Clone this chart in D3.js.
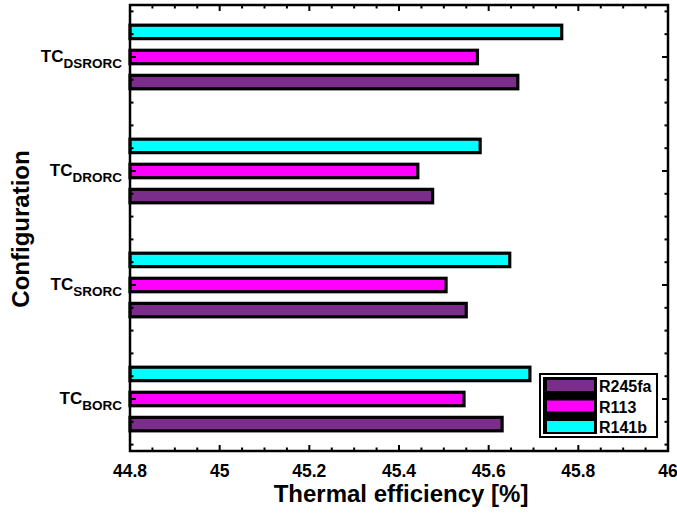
<!DOCTYPE html>
<html><head><meta charset="utf-8">
<script src="https://cdn.jsdelivr.net/npm/d3@7"></script>
<style>body{margin:0;background:#fff}svg{display:block;font-family:"Liberation Sans",Arial,sans-serif;font-weight:bold}</style>
</head><body>
<svg id="c" width="677" height="513"></svg>
<script>
const categories = ["BORC", "SRORC", "DRORC", "DSRORC"];
const seriesNames = ["R245fa", "R113", "R141b"];
const seriesColors = ["#7b2d8b", "#ff00ff", "#00ffff"];
const R245fa = [45.63, 45.55, 45.475, 45.665];
const R113   = [45.545, 45.505, 45.442, 45.575];
const R141b  = [45.692, 45.647, 45.581, 45.763];
const xTicks = [44.8, 45, 45.2, 45.4, 45.6, 45.8, 46];
const xTickLabels = ["44.8", "45", "45.2", "45.4", "45.6", "45.8", "46"];
const values = [R245fa, R113, R141b];

const svg = d3.select("#c");
const L = 130, R = 668, T = 5, B = 451;
const x = d3.scaleLinear().domain([44.8, 46]).range([L, R]);
const y = d3.scaleLinear().domain([0.544, 4.456]).range([B, T]);
const offs = [-0.22, 0, 0.22];
const bh = 0.118;

// bars
values.forEach((vals, s) => {
  svg.append("g").selectAll("rect").data(vals).join("rect")
    .attr("x", x(44.8))
    .attr("y", (d, i) => y(i + 1 + offs[s] + bh / 2))
    .attr("width", d => x(d) - x(44.8))
    .attr("height", y(0) - y(bh))
    .attr("fill", seriesColors[s])
    .attr("stroke", "#000").attr("stroke-width", 3.2);
});

// ticks
const minorX = d3.range(0, 25).map(i => 44.8 + i * 0.05);
const g = svg.append("g").attr("stroke", "#000");
minorX.forEach(v => {
  const major = xTicks.some(t => Math.abs(t - v) < 1e-6);
  const len = major ? 6 : 3.5;
  g.append("line").attr("x1", x(v)).attr("x2", x(v)).attr("y1", B).attr("y2", B - len).attr("stroke-width", 2);
  g.append("line").attr("x1", x(v)).attr("x2", x(v)).attr("y1", T).attr("y2", T + len).attr("stroke-width", 2);
});
const minorY = d3.range(0, 21).map(i => 0.6 + i * 0.2).filter(v => y(v) > T + 2 && y(v) < B - 2);
minorY.forEach(v => {
  const major = Math.abs(v - Math.round(v)) < 1e-6;
  const len = major ? 6 : 3.5;
  g.append("line").attr("x1", L).attr("x2", L + len).attr("y1", y(v)).attr("y2", y(v)).attr("stroke-width", 2);
  g.append("line").attr("x1", R).attr("x2", R - len).attr("y1", y(v)).attr("y2", y(v)).attr("stroke-width", 2);
});

// frame
svg.append("rect").attr("x", L).attr("y", T).attr("width", R - L).attr("height", B - T)
  .attr("fill", "none").attr("stroke", "#000").attr("stroke-width", 2.5);

// x tick labels
svg.append("g").selectAll("text").data(xTicks).join("text")
  .attr("x", d => x(d)).attr("y", 477).attr("text-anchor", "middle")
  .attr("font-size", 17.5).text((d, i) => xTickLabels[i]);

// category labels
categories.forEach((c, i) => {
  const t = svg.append("text").attr("x", 122).attr("y", y(i + 1) + 5)
    .attr("text-anchor", "end").attr("font-size", 17);
  t.append("tspan").text("TC");
  t.append("tspan").attr("dy", 6).attr("font-size", 13.5).text(c);
});

// axis titles
svg.append("text").attr("x", 401).attr("y", 502).attr("text-anchor", "middle")
  .attr("font-size", 24).text("Thermal efficiency [%]");
svg.append("text").attr("transform", "translate(29,229) rotate(-90)").attr("text-anchor", "middle")
  .attr("font-size", 24).text("Configuration");

// legend
const lg = svg.append("g");
lg.append("rect").attr("x", 540).attr("y", 374).attr("width", 117).attr("height", 63)
  .attr("fill", "#fff").attr("stroke", "#000").attr("stroke-width", 2);
lg.append("rect").attr("x", 543).attr("y", 377).attr("width", 54).attr("height", 57).attr("fill", "#000");
seriesNames.forEach((n, s) => {
  const yy = 380 + s * 20.5;
  lg.append("rect").attr("x", 547).attr("y", yy).attr("width", 47).attr("height", 11).attr("fill", seriesColors[s]);
  lg.append("text").attr("x", 599).attr("y", yy + 12).attr("font-size", 16).text(n);
});
</script>
</body></html>
